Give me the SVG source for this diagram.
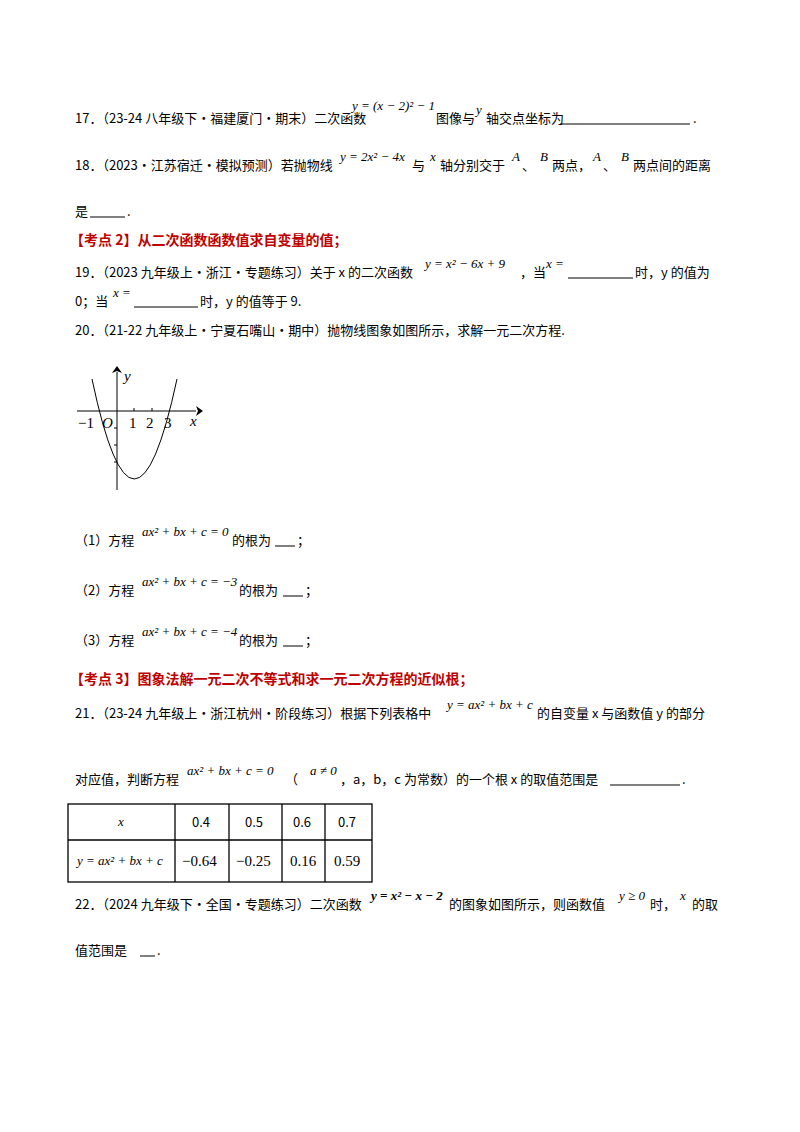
<svg xmlns="http://www.w3.org/2000/svg" width="800" height="1132" viewBox="0 0 800 1132">
<style>
.t{font-family:"Noto Sans CJK SC","Liberation Sans",sans-serif;font-size:13px;fill:#000}
.m{font-family:"Liberation Serif",serif;font-style:italic;font-size:13px;fill:#000}
.r{font-family:"Noto Sans CJK SC","Liberation Sans",sans-serif;font-size:14px;font-weight:bold;fill:#c00000}
.g{font-family:"Liberation Serif",serif;font-size:15px;fill:#000}
.u{stroke:#000;stroke-width:1}
</style>
<rect width="800" height="1132" fill="#fff"/>
<text class="t" x="75" y="123">17．（23-24 八年级下·福建厦门·期末）二次函数</text>
<text class="m" x="352" y="110" font-size="12">y = (x − 2)² − 1</text>
<text class="t" x="436" y="123">图像与</text><text class="m" x="476" y="114">y</text><text class="t" x="486" y="123">轴交点坐标为</text>
<line class="u" x1="560" y1="124" x2="690" y2="124"/><text class="t" x="693" y="123">.</text>

<text class="t" x="75" y="170">18．（2023·江苏宿迁·模拟预测）若抛物线</text>
<text class="m" x="340" y="161">y = 2x² − 4x</text>
<text class="t" x="412" y="170">与</text><text class="m" x="430" y="161">x</text><text class="t" x="440" y="170">轴分别交于</text>
<text class="m" x="512" y="161">A</text><text class="t" x="522" y="170">、</text><text class="m" x="540" y="161">B</text><text class="t" x="552" y="170">两点，</text>
<text class="m" x="593" y="161">A</text><text class="t" x="603" y="170">、</text><text class="m" x="621" y="161">B</text><text class="t" x="633" y="170">两点间的距离</text>
<text class="t" x="75" y="216">是</text><line class="u" x1="90" y1="217" x2="125" y2="217"/><text class="t" x="127" y="216">.</text>

<text class="r" x="70" y="245">【考点 2】从二次函数函数值求自变量的值；</text>

<text class="t" x="75" y="277">19．（2023 九年级上·浙江·专题练习）关于 x 的二次函数</text>
<text class="m" x="425" y="268">y = x² − 6x + 9</text>
<text class="t" x="520" y="277">，当</text><text class="m" x="546" y="268">x =</text>
<line class="u" x1="568" y1="278" x2="633" y2="278"/><text class="t" x="635" y="277">时，y 的值为</text>
<text class="t" x="75" y="306">0；当</text><text class="m" x="113" y="297">x =</text>
<line class="u" x1="134" y1="307" x2="198" y2="307"/><text class="t" x="200" y="306">时，y 的值等于 9.</text>

<text class="t" x="75" y="335">20．（21-22 九年级上·宁夏石嘴山·期中）抛物线图象如图所示，求解一元二次方程.</text>

<g id="graph">
<line class="u" x1="77" y1="411" x2="196" y2="411"/>
<path d="M196 406 L203 411 L196 416 L198 411Z"/>
<line class="u" x1="117" y1="490" x2="117" y2="372"/>
<path d="M112 373 L117 366 L122 373 L117 371Z"/>
<line class="u" x1="134" y1="408" x2="134" y2="411"/>
<line class="u" x1="152" y1="408" x2="152" y2="411"/>
<line class="u" x1="114" y1="428" x2="117" y2="428"/>
<line class="u" x1="114" y1="445" x2="117" y2="445"/>
<line class="u" x1="114" y1="462" x2="117" y2="462"/>
<path d="M92 379 Q134 579 177 379" fill="none" stroke="#000" stroke-width="1"/>
<text class="g" x="78" y="428">−1</text><text class="g" x="102" y="428" font-style="italic">O</text>
<text class="g" x="129" y="428">1</text><text class="g" x="146" y="428">2</text><text class="g" x="164" y="428">3</text>
<text class="g" x="190" y="426" font-style="italic">x</text><text class="g" x="124" y="381" font-style="italic">y</text>
</g>

<text class="t" x="75" y="545">（1）方程</text><text class="m" x="142" y="536">ax² + bx + c = 0</text><text class="t" x="232" y="545">的根为</text>
<line class="u" x1="275" y1="546" x2="295" y2="546"/><text class="t" x="297" y="545">；</text>
<text class="t" x="75" y="595">（2）方程</text><text class="m" x="142" y="586">ax² + bx + c = −3</text><text class="t" x="239" y="595">的根为</text>
<line class="u" x1="283" y1="596" x2="303" y2="596"/><text class="t" x="305" y="595">；</text>
<text class="t" x="75" y="645">（3）方程</text><text class="m" x="142" y="636">ax² + bx + c = −4</text><text class="t" x="239" y="645">的根为</text>
<line class="u" x1="283" y1="646" x2="303" y2="646"/><text class="t" x="305" y="645">；</text>

<text class="r" x="70" y="684">【考点 3】图象法解一元二次不等式和求一元二次方程的近似根；</text>

<text class="t" x="75" y="718">21．（23-24 九年级上·浙江杭州·阶段练习）根据下列表格中</text>
<text class="m" x="447" y="709">y = ax² + bx + c</text>
<text class="t" x="537" y="718">的自变量 x 与函数值 y 的部分</text>
<text class="t" x="75" y="784">对应值，判断方程</text><text class="m" x="187" y="775">ax² + bx + c = 0</text>
<text class="t" x="285" y="784">（</text><text class="m" x="310" y="775">a ≠ 0</text>
<text class="t" x="340" y="784">，a，b，c 为常数）的一个根 x 的取值范围是</text>
<line class="u" x1="610" y1="785" x2="680" y2="785"/><text class="t" x="682" y="784">.</text>

<g id="table" fill="none" stroke="#000" stroke-width="1.3">
<rect x="68" y="804" width="304" height="78"/>
<line x1="68" y1="840" x2="372" y2="840"/>
<line x1="175" y1="804" x2="175" y2="882"/>
<line x1="229" y1="804" x2="229" y2="882"/>
<line x1="282" y1="804" x2="282" y2="882"/>
<line x1="325" y1="804" x2="325" y2="882"/>
</g>
<text class="m" x="118" y="826">x</text>
<text class="t" x="192" y="827">0.4</text><text class="t" x="245" y="827">0.5</text><text class="t" x="293" y="827">0.6</text><text class="t" x="338" y="827">0.7</text>
<text class="m" x="77" y="865">y = ax² + bx + c</text>
<text class="g" x="182" y="866" font-size="13">−0.64</text>
<text class="g" x="236" y="866" font-size="13">−0.25</text>
<text class="g" x="290" y="866" font-size="13">0.16</text>
<text class="g" x="334" y="866" font-size="13">0.59</text>

<text class="t" x="75" y="909">22．（2024 九年级下·全国·专题练习）二次函数</text>
<text class="m" x="371" y="900" font-weight="bold">y = x² − x − 2</text>
<text class="t" x="449" y="909">的图象如图所示，则函数值</text>
<text class="m" x="619" y="900">y ≥ 0</text><text class="t" x="650" y="909">时，</text>
<text class="m" x="680" y="900">x</text><text class="t" x="692" y="909">的取</text>
<text class="t" x="75" y="955">值范围是</text><line class="u" x1="140" y1="956" x2="155" y2="956"/><text class="t" x="157" y="955">.</text>
</svg>
